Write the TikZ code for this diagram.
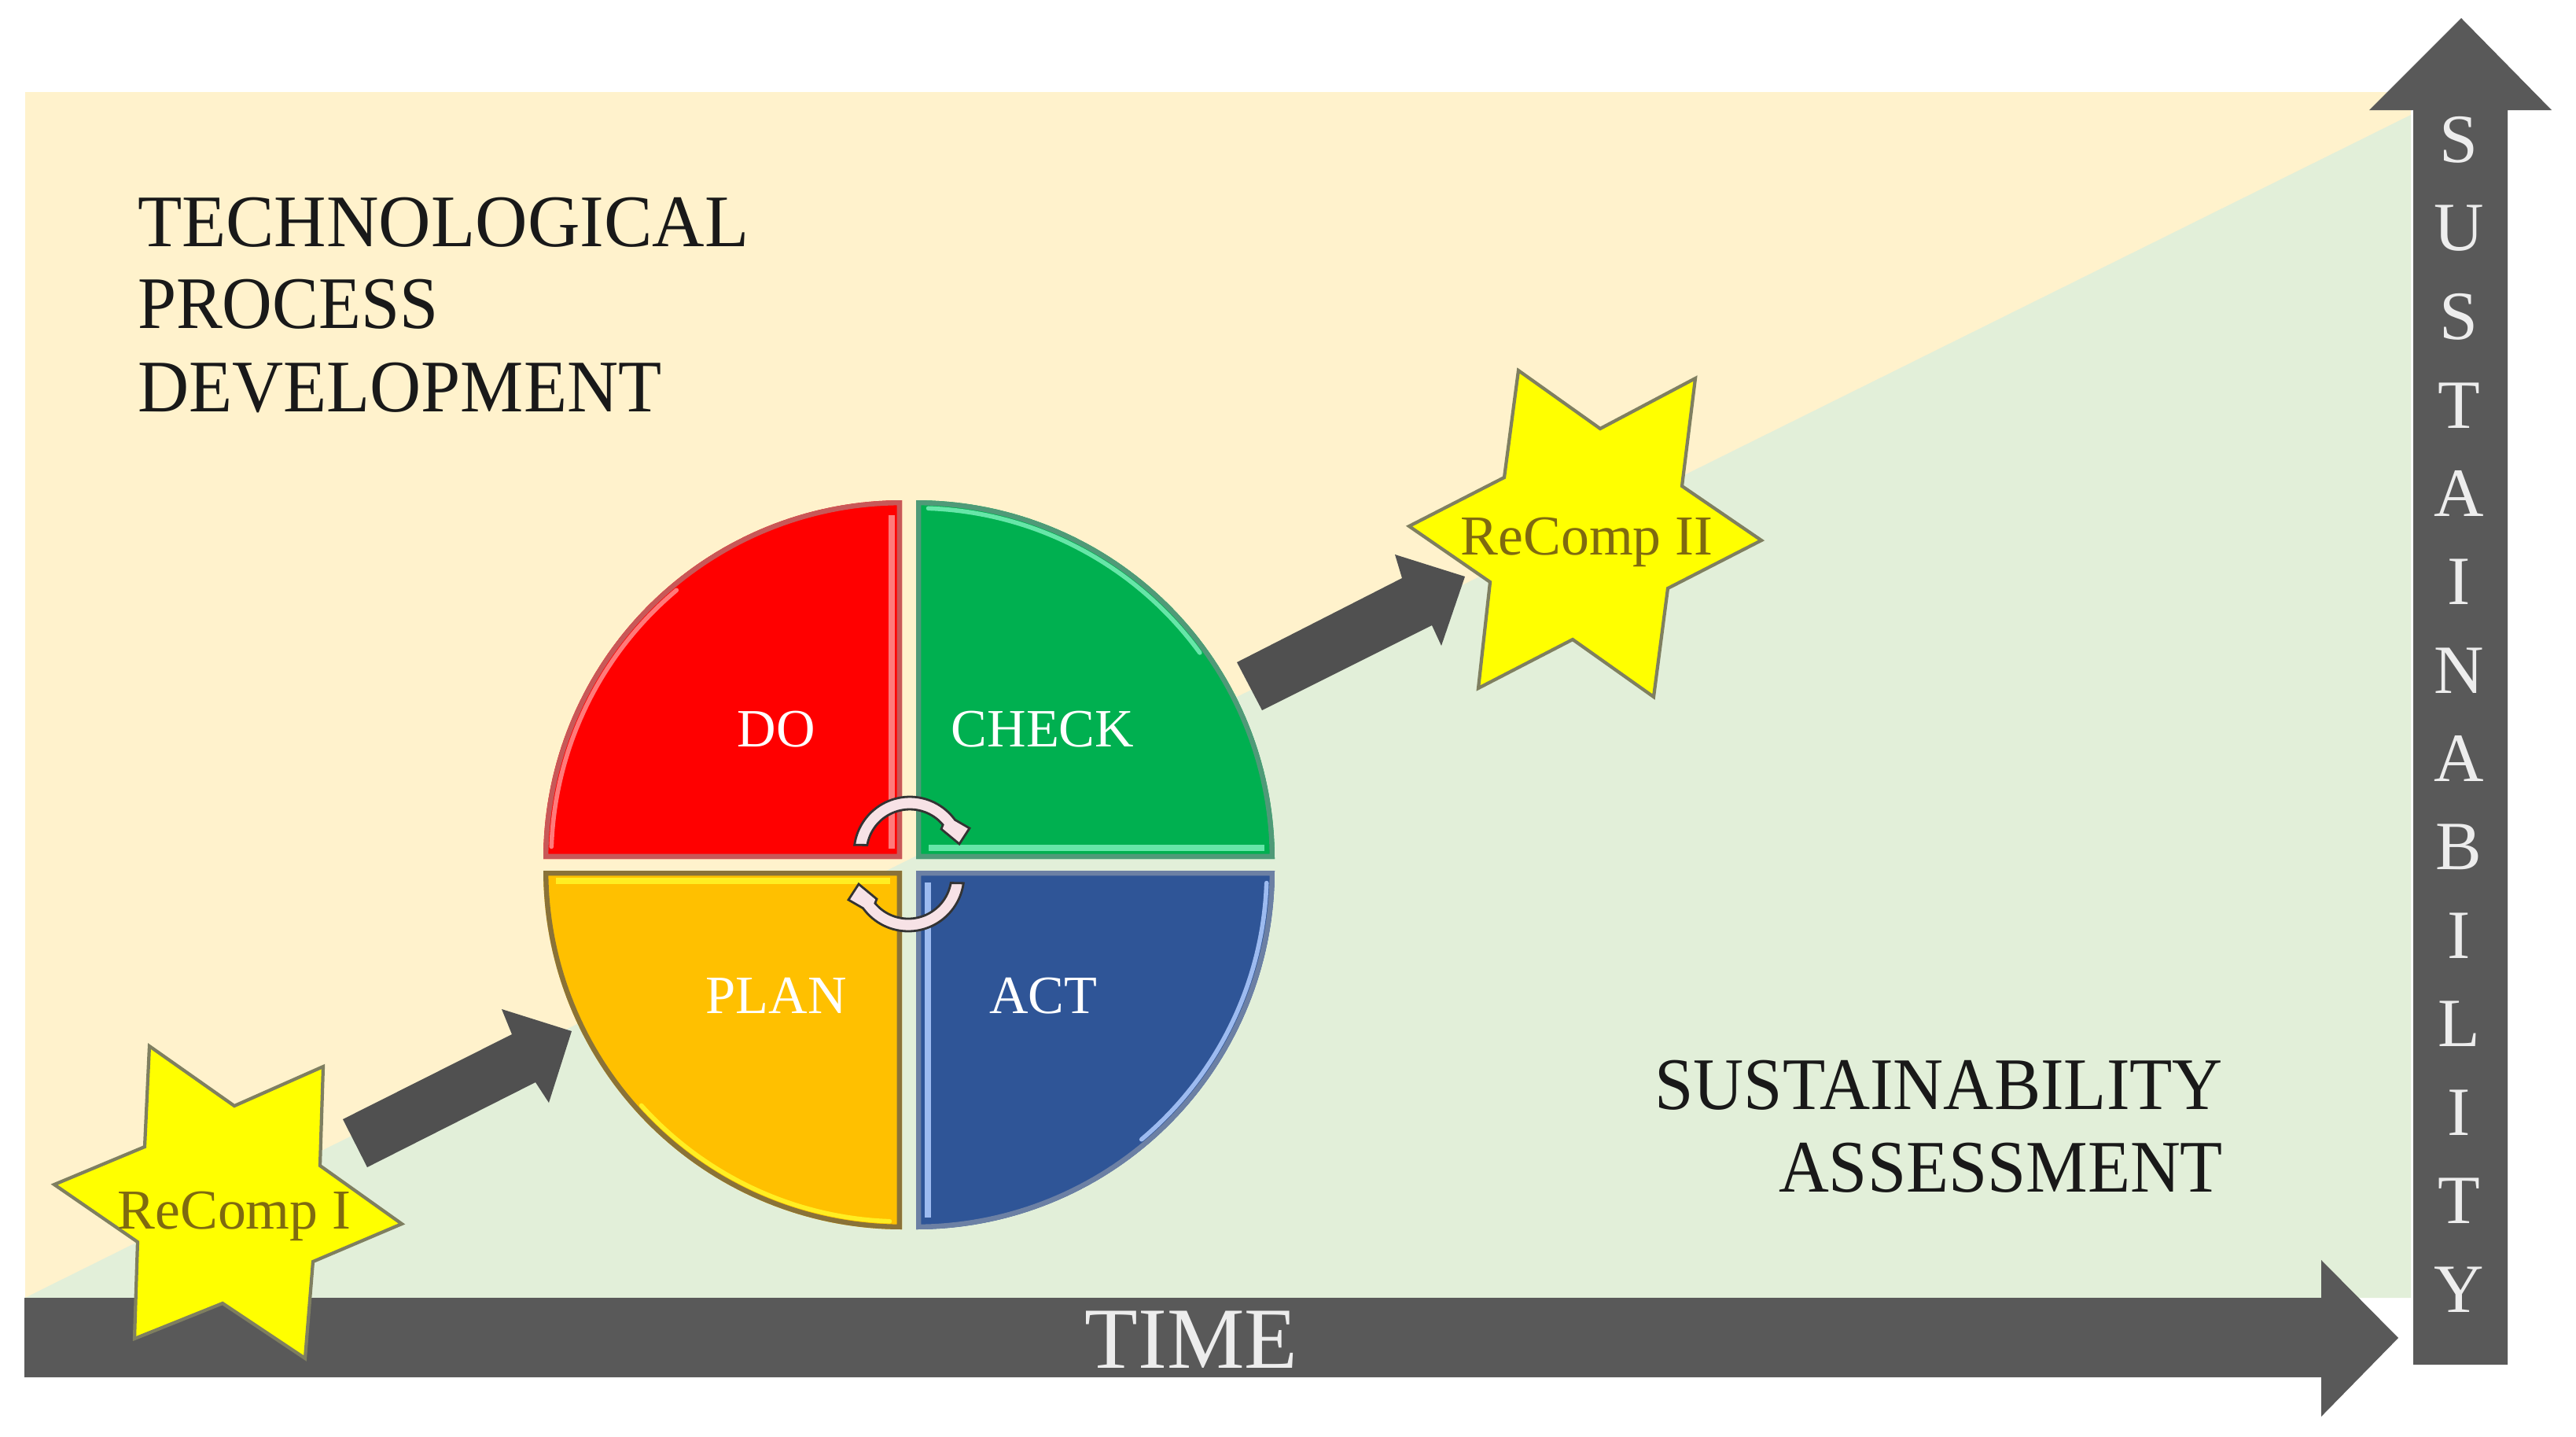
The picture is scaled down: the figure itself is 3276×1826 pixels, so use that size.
\documentclass[tikz,border=0pt]{standalone}
\usepackage{fontspec}
\setmainfont{Liberation Serif}
\definecolor{cream}{HTML}{FFF2CC}
\definecolor{sage}{HTML}{E2EFD9}
\definecolor{bar}{HTML}{595959}
\definecolor{arrowdark}{HTML}{505050}
\definecolor{starfill}{HTML}{FFFF00}
\definecolor{staredge}{HTML}{7F7F60}
\definecolor{startext}{HTML}{7F6A10}
\definecolor{pale}{HTML}{F7E2E6}
\definecolor{qred}{HTML}{FF0000}
\definecolor{qgreen}{HTML}{00B050}
\definecolor{qgold}{HTML}{FFC000}
\definecolor{qblue}{HTML}{2F5597}
\definecolor{rimred}{HTML}{C85858}
\definecolor{rimgreen}{HTML}{4F9A78}
\definecolor{rimgold}{HTML}{8A7238}
\definecolor{rimblue}{HTML}{6C80A4}
\definecolor{hired}{HTML}{FF7A7A}
\definecolor{higreen}{HTML}{66E6A8}
\definecolor{higold}{HTML}{FFEE22}
\definecolor{hiblue}{HTML}{9DBBF0}
\newcommand{\sizept}[1]{\fontsize{#1}{#1}\selectfont}
% quadrant: centre x, centre y, start angle, end angle, fill, rim
\newcommand{\quadrant}[6]{%
  \fill[#5] (#1,#2) -- plot[domain=#3:#4,samples=70] ({#1+456*cos(\x)},{#2-456*sin(\x)}) -- cycle;
  \begin{scope}
    \clip (#1,#2) -- plot[domain=#3:#4,samples=70] ({#1+456*cos(\x)},{#2-456*sin(\x)}) -- cycle;
    \draw[#6,line width=3.6pt,line join=miter] (#1,#2) -- plot[domain=#3:#4,samples=70] ({#1+456*cos(\x)},{#2-456*sin(\x)}) -- cycle;
  \end{scope}}
\newcommand{\rimarc}[5]{%
  \draw[#5,line width=1.6pt,line cap=round] plot[domain=#3:#4,samples=50] ({#1+446*cos(\x)},{#2-446*sin(\x)});}
\newcommand{\ringarrow}{%
  \path[fill=pale,draw=black!80,line width=0.8pt,line join=miter]
    plot[domain=172:36,samples=40] ({71*cos(\x)},{-71*sin(\x)})
    -- (76,-31) -- (63,-11) -- (40,-30)
    -- plot[domain=40:170,samples=40] ({55*cos(\x)},{-55*sin(\x)}) -- cycle;}
\tikzset{
  x=0.01cm,y=-0.01cm,
  blockarrow/.style={fill=arrowdark,draw=none},
  barshape/.style={fill=bar,draw=none},
  star/.style={fill=starfill,draw=staredge,line width=1.2pt,line join=miter},
  bigtext/.style={black!90,inner sep=0pt,outer sep=0pt,font=\sizept{26.8}},
  quadtext/.style={white,inner sep=0pt,anchor=center,font=\sizept{19.5}},
  startxt/.style={startext,inner sep=0pt,anchor=center,font=\sizept{20.4}},
  vertletter/.style={white!93!black,inner sep=0pt,anchor=center,font=\sizept{25}},
  edgehi/.style={line width=2.4pt},
}
\begin{document}
\begin{tikzpicture}
\useasboundingbox (0,0) rectangle (3276,1826);
\fill[white] (0,0) rectangle (3276,1826);
% background
\fill[cream] (32,117) rectangle (3066,1650);
\fill[sage] (32,1650) -- (60,1636) -- (3066,146) -- (3066,1650) -- cycle;
% time axis
\fill[barshape] (31,1650) -- (2952,1650) -- (2952,1602) -- (3050,1701) -- (2952,1801) -- (2952,1751) -- (31,1751) -- cycle;
% sustainability axis
\fill[barshape] (3069,1735) -- (3069,140) -- (3013,140) -- (3130,23) -- (3245,140) -- (3189,140) -- (3189,1735) -- cycle;
\node[white!93!black,inner sep=0pt,font=\sizept{31.5}] (timelabel) at (1515,1703) {TIME};
\foreach \l [count=\i from 0] in {S,U,S,T,A,I,N,A,B,I,L,I,T,Y}{
  \node[vertletter] (v\i) at (3127,178+112.4*\i) {\l};
}
% small arrows
\fill[blockarrow] (436,1423) -- (651,1315) -- (638,1283) -- (727,1311) -- (698,1402) -- (681,1376) -- (467,1484) -- cycle;
\fill[blockarrow] (1573,842) -- (1783,735) -- (1774,705) -- (1863,733) -- (1833,821) -- (1821,795) -- (1605,903) -- cycle;
% stars
\path[star] (190,1330) -- (298,1406) -- (411,1356) -- (407,1482) -- (511,1556) -- (398,1604) -- (388,1727) -- (283,1657) -- (171,1702) -- (175,1579) -- (69,1506) -- (184,1458) -- cycle;
\path[star] (1931,471) -- (2035,545) -- (2156,481) -- (2139,618) -- (2240,687) -- (2121,748) -- (2103,886) -- (2000,813) -- (1880,875) -- (1895,740) -- (1792,669) -- (1913,607) -- cycle;
\node[startxt] (recompa) at (298,1546) {ReComp I};
\node[startxt] (recompb) at (2018,689) {ReComp II};
% PDCA wheel
\quadrant{1147}{1092}{90}{180}{qred}{rimred}
\quadrant{1165}{1092}{0}{90}{qgreen}{rimgreen}
\quadrant{1147}{1107}{180}{270}{qgold}{rimgold}
\quadrant{1165}{1107}{270}{360}{qblue}{rimblue}
% bevel highlights
\draw[hired,edgehi] (1134,655) -- (1134,1079);
\rimarc{1147}{1092}{130}{178}{hired}
\draw[higreen,edgehi] (1181,1078) -- (1608,1078);
\rimarc{1165}{1092}{36}{88}{higreen}
\draw[higold,edgehi] (707,1120) -- (1132,1120);
\rimarc{1147}{1107}{222}{268}{higold}
\draw[hiblue,edgehi] (1180,1122) -- (1180,1548);
\rimarc{1165}{1107}{310}{358}{hiblue}
% cycle arrows
\begin{scope}[shift={(1157,1084)}]
  \ringarrow
\end{scope}
\begin{scope}[shift={(1155,1113)},rotate=180]
  \ringarrow
\end{scope}
% labels
\node[quadtext] (doq) at (987,927) {DO};
\node[quadtext] (checkq) at (1326,927) {CHECK};
\node[quadtext] (planq) at (987,1266) {PLAN};
\node[quadtext] (actq) at (1327,1266) {ACT};
\node[bigtext,anchor=base west] (techa) at (175,313) {\scalebox{.977}[1]{TECHNOLOGICAL}};
\node[bigtext,anchor=base west] (techb) at (175,417) {\scalebox{.936}[1]{PROCESS}};
\node[bigtext,anchor=base west] (techc) at (175,523) {\scalebox{.957}[1]{DEVELOPMENT}};
\node[bigtext,anchor=base east] (susa) at (2827,1410) {\scalebox{.942}[1]{SUSTAINABILITY}};
\node[bigtext,anchor=base east] (susb) at (2827,1515) {\scalebox{.938}[1]{ASSESSMENT}};
\end{tikzpicture}
\end{document}
